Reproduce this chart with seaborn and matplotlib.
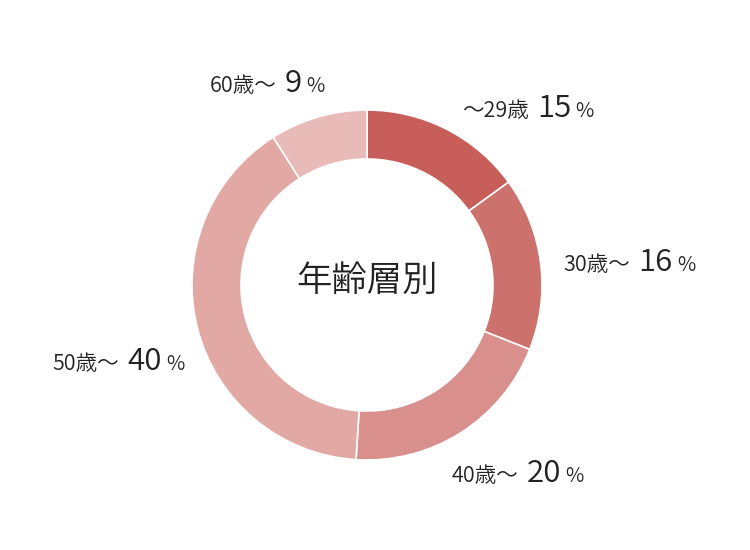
"""
Donut chart: age group breakdown
"""

# Dependencies
import matplotlib
matplotlib.use('Agg')
import matplotlib.pyplot as plt
import seaborn as sns
from matplotlib.offsetbox import TextArea, HPacker, AnnotationBbox

# Data
groups = ['～29歳', '30歳～', '40歳～', '50歳～', '60歳～']
shares = [15, 16, 20, 40, 9]
colors = ['#c75e59', '#cd716c', '#d98f8c', '#e1a8a4', '#e8bab8']
center_label = '年齢層別'

# label anchor points (pie radius units)
label_pos = [(0.92, 1.01), (1.50, 0.13), (0.86, -1.08), (-1.42, -0.44), (-0.57, 1.15)]

sns.set_theme(style='white')
plt.rcParams['font.family'] = ['Noto Sans CJK JP', 'DejaVu Sans']
text_color = '#222222'
weight = 350

fig = plt.figure(figsize=(7.5, 5.5), dpi=100)
ax = fig.add_axes([192 / 750, 90 / 550, 350 / 750, 350 / 550])

ax.pie(shares, colors=colors, startangle=90, counterclock=False,
       radius=1.0, wedgeprops=dict(width=0.28, edgecolor='white', linewidth=1.2))
ax.set_xlim(-1, 1)
ax.set_ylim(-1, 1)
ax.set_aspect('equal')
ax.axis('off')

ax.text(0, 0.025, center_label, ha='center', va='center',
        fontsize=25.5, color=text_color, fontweight=weight)

# labels with mixed font sizes
for grp, val, pos in zip(groups, shares, label_pos):
    num_pct = HPacker(children=[
        TextArea(str(val), textprops=dict(fontsize=22.5, color=text_color, fontweight=weight)),
        TextArea('%', textprops=dict(fontsize=14.5, color=text_color, fontweight=weight)),
    ], align='baseline', pad=0, sep=3)
    box = HPacker(children=[
        TextArea(grp, textprops=dict(fontsize=15.5, color=text_color, fontweight=weight)),
        num_pct,
    ], align='baseline', pad=0, sep=6)
    ab = AnnotationBbox(box, pos, xycoords='data', frameon=False,
                        box_alignment=(0.5, 0.5), annotation_clip=False)
    ax.add_artist(ab)

plt.savefig('out.png', dpi=100)
plt.close()
